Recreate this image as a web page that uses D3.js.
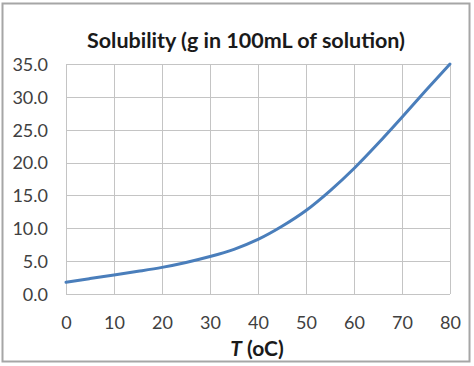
<!DOCTYPE html>
<html><head><meta charset="utf-8">
<script src="https://cdn.jsdelivr.net/npm/d3@7"></script>
<style>body{margin:0;background:#fff}svg{display:block}</style>
</head><body>
<svg id="c" width="474" height="366"></svg>
<script>
const temps = [0,5,10,15,20,25,30,35,40,45,50,55,60,65,70,75,80];
const solubility = [1.8,2.35,2.9,3.45,4.05,4.8,5.7,6.8,8.3,10.3,12.7,15.7,19.1,22.9,26.9,31.0,35.0];
const xTicks = [0,10,20,30,40,50,60,70,80];
const yTicks = [0,5,10,15,20,25,30,35];
const title = "Solubility (g in 100mL of solution)";

const svg = d3.select("#c");
const font = "Lato, 'Open Sans', sans-serif";
svg.append("rect").attr("x",2.5).attr("y",3.5).attr("width",467).attr("height",358)
  .attr("fill","#fff").attr("stroke","#a6a6a6").attr("stroke-width",2);

const x = d3.scaleLinear().domain([0,80]).range([66,450]);
const y = d3.scaleLinear().domain([0,35]).range([294,64]);

const g = svg.append("g");
g.selectAll("line.v").data(xTicks).join("line").attr("class","v")
  .attr("x1",d=>x(d)+0.5).attr("x2",d=>x(d)+0.5).attr("y1",y(35)).attr("y2",y(0))
  .attr("stroke","#c4c4c4").attr("stroke-width",1);
g.selectAll("line.h").data(yTicks).join("line").attr("class","h")
  .attr("y1",d=>Math.round(y(d))+0.5).attr("y2",d=>Math.round(y(d))+0.5).attr("x1",x(0)).attr("x2",x(80))
  .attr("stroke","#c4c4c4").attr("stroke-width",1);

const xAxis = d3.axisBottom(x).tickValues(xTicks).tickSize(0).tickPadding(0).tickFormat(d3.format("d"));
const ax = svg.append("g").attr("transform","translate(0,"+(y(0)+35)+")").call(xAxis);
ax.select(".domain").remove();
ax.selectAll("text").attr("font-family",font).attr("font-size",18).attr("fill","#404040").attr("dy","0");

const yAxis = d3.axisLeft(y).tickValues(yTicks).tickSize(0).tickPadding(0).tickFormat(d3.format(".1f"));
const ay = svg.append("g").attr("transform","translate(48,0)").call(yAxis);
ay.select(".domain").remove();
ay.selectAll("text").attr("font-family",font).attr("font-size",18).attr("fill","#404040").attr("dy","0.35em");

const line = d3.line().x((d,i)=>x(temps[i])).y(d=>y(d)).curve(d3.curveMonotoneX);
svg.append("path").datum(solubility).attr("d",line).attr("fill","none")
  .attr("stroke","#4a7ebb").attr("stroke-width",3).attr("stroke-linecap","round");

svg.append("text").attr("x",246).attr("y",48).attr("text-anchor","middle")
  .attr("font-family",font).attr("font-weight","bold").attr("font-size",21.5).attr("fill","#1a1a1a").text(title);

const xt = svg.append("text").attr("x",257).attr("y",356).attr("text-anchor","middle")
  .attr("font-family",font).attr("font-weight","bold").attr("font-size",21).attr("fill","#1a1a1a");
xt.append("tspan").attr("font-style","italic").text("T");
xt.append("tspan").text(" (oC)");
</script>
</body></html>
